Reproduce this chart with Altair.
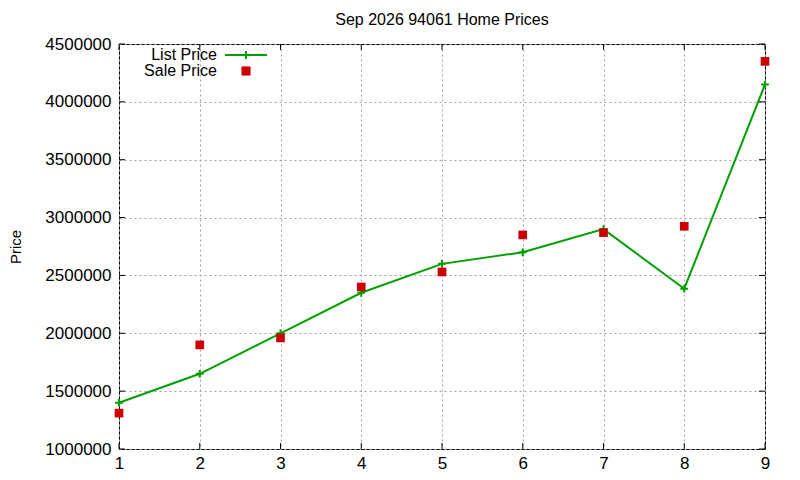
import altair as alt
import pandas as pd

months = [1, 2, 3, 4, 5, 6, 7, 8, 9]
list_price = [1400000, 1650000, 2000000, 2350000, 2600000, 2700000, 2900000, 2385000, 4150000]
sale_price = [1310000, 1900000, 1960000, 2400000, 2530000, 2850000, 2870000, 2925000, 4350000]
y_ticks = [1000000, 1500000, 2000000, 2500000, 3000000, 3500000, 4000000, 4500000]
legend_labels = ["List Price", "Sale Price"]

GREEN = "#00a000"
RED = "#cc0000"
FONT = "Liberation Sans"
W, H = 646, 405

df = pd.DataFrame({"month": months, "list": list_price, "sale": sale_price})
xt = pd.DataFrame({"v": months})
yt = pd.DataFrame({"v": y_ticks})
leg = pd.DataFrame({"label": legend_labels})

x_scale = alt.Scale(domain=[1, 9], nice=False)
y_scale = alt.Scale(domain=[1000000, 4500000], nice=False, zero=False)

x_enc = alt.X(
    "month:Q",
    scale=x_scale,
    axis=alt.Axis(
        values=months, format="d", tickSize=0, labelPadding=6, title=None,
        labelFlush=False, gridDash=[2, 3], gridColor="#a0a0a0", domain=False,
    ),
)
y_enc = alt.Y(
    "list:Q",
    scale=y_scale,
    axis=alt.Axis(
        values=y_ticks, format="d", tickSize=0, labelPadding=8, title="Price",
        titlePadding=21, titleFontWeight="normal", titleFontSize=15,
        labelFlush=False, gridDash=[2, 3], gridColor="#a0a0a0", domain=False,
    ),
)

base = alt.Chart(df)
line = base.mark_line(color=GREEN, strokeWidth=2).encode(x=x_enc, y=y_enc)
plus = base.mark_point(
    shape="M-1,0L1,0M0,-1L0,1", filled=False, color=GREEN, strokeWidth=2, size=60, opacity=1
).encode(x=alt.X("month:Q", scale=x_scale), y=alt.Y("list:Q", scale=y_scale))
squares = base.mark_square(color=RED, size=75, opacity=1).encode(
    x=alt.X("month:Q", scale=x_scale), y=alt.Y("sale:Q", scale=y_scale)
)

# inward ticks on all four sides, like gnuplot
tick_len = 6
yt_left = alt.Chart(yt).mark_rule(color="black").encode(
    y=alt.Y("v:Q", scale=y_scale), x=alt.value(0), x2=alt.value(tick_len)
)
yt_right = alt.Chart(yt).mark_rule(color="black").encode(
    y=alt.Y("v:Q", scale=y_scale), x=alt.value(W - tick_len), x2=alt.value(W)
)
xt_bottom = alt.Chart(xt).mark_rule(color="black").encode(
    x=alt.X("v:Q", scale=x_scale), y=alt.value(H - tick_len), y2=alt.value(H)
)
xt_top = alt.Chart(xt).mark_rule(color="black").encode(
    x=alt.X("v:Q", scale=x_scale), y=alt.value(0), y2=alt.value(tick_len)
)

# legend in the top-left corner, label left of the sample
leg_base = alt.Chart(leg)
leg_text_list = leg_base.transform_filter(alt.datum.label == legend_labels[0]).mark_text(
    align="right", baseline="middle", fontSize=16, font=FONT
).encode(text="label:N", x=alt.value(98), y=alt.value(11))
leg_text_sale = leg_base.transform_filter(alt.datum.label == legend_labels[1]).mark_text(
    align="right", baseline="middle", fontSize=16, font=FONT
).encode(text="label:N", x=alt.value(98), y=alt.value(27))
leg_line = leg_base.mark_rule(color=GREEN, strokeWidth=2).encode(
    x=alt.value(106), x2=alt.value(148), y=alt.value(11)
)
leg_plus = leg_base.mark_point(
    shape="M-1,0L1,0M0,-1L0,1", filled=False, color=GREEN, strokeWidth=2, size=60, opacity=1
).encode(x=alt.value(127), y=alt.value(11))
leg_sq = leg_base.mark_square(color=RED, size=75, opacity=1).encode(
    x=alt.value(127), y=alt.value(27)
)

chart = (
    alt.layer(
        line, plus, squares, yt_left, yt_right, xt_bottom, xt_top,
        leg_text_list, leg_text_sale, leg_line, leg_plus, leg_sq,
    )
    .properties(
        width=W,
        height=H,
        title=alt.Title("Sep 2026 94061 Home Prices", fontSize=16, fontWeight="normal", font=FONT, offset=7),
        autosize=alt.AutoSizeParams(type="none"),
        padding={"left": 111, "top": 36, "right": 27, "bottom": 23},
    )
    .configure_view(stroke="black", strokeWidth=1)
    .configure_axis(labelFont=FONT, titleFont=FONT, labelFontSize=17, labelColor="black", titleColor="black")
)

chart.save("out.html", embed_options={"renderer": "svg", "actions": False})
